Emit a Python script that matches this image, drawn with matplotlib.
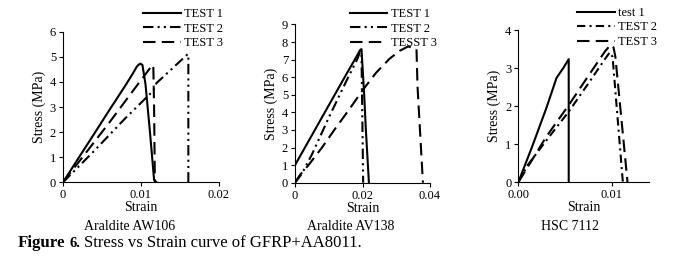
import matplotlib
matplotlib.use('Agg')
from matplotlib import pyplot as plt

plt.rcParams['font.family'] = 'Liberation Serif'

# Araldite AW106
AW106_T1_X = [0, 0.002, 0.004, 0.006, 0.008, 0.009, 0.0095, 0.0099, 0.0102, 0.0106, 0.0112, 0.0117, 0.0120]
AW106_T1_Y = [0, 0.97, 1.93, 2.9, 3.85, 4.35, 4.62, 4.73, 4.68, 3.9, 1.9, 0.1, 0]
AW106_T2_X = [0, 0.004, 0.008, 0.0116, 0.012, 0.016, 0.0161, 0.0161]
AW106_T2_Y = [0, 1.25, 2.55, 3.65, 3.95, 5.1, 5.1, 0]
AW106_T3_X = [0, 0.003, 0.006, 0.009, 0.0107, 0.0113, 0.0116, 0.0117, 0.0118]
AW106_T3_Y = [0, 1.2, 2.4, 3.65, 4.35, 4.6, 4.67, 3.0, 0]

# Araldite AV138
AV138_T1_X = [0, 0.005, 0.01, 0.015, 0.018, 0.0193, 0.0197, 0.0205, 0.021, 0.0219]
AV138_T1_Y = [1.0, 2.7, 4.4, 6.1, 7.1, 7.55, 7.6, 5.0, 3.0, 0]
AV138_T2_X = [0, 0.002, 0.005, 0.01, 0.015, 0.0185, 0.0193, 0.0197, 0.0202]
AV138_T2_Y = [0, 0.5, 1.6, 3.7, 5.7, 7.05, 7.45, 7.3, 0]
AV138_T3_X = [0, 0.0015, 0.004, 0.008, 0.012, 0.016, 0.02, 0.024, 0.028, 0.031, 0.0335, 0.0355, 0.036, 0.0363, 0.0379]
AV138_T3_Y = [0, 0.45, 1.0, 2.0, 3.1, 4.15, 5.25, 6.25, 7.05, 7.5, 7.75, 7.65, 7.6, 5.5, 0]

# HSC 7112
HSC_T1_X = [0, 0.0015, 0.003, 0.0041, 0.0048, 0.0054, 0.0054]
HSC_T1_Y = [0, 0.95, 1.95, 2.75, 3.0, 3.24, 0]
HSC_T2_X = [0, 0.001, 0.003, 0.0054, 0.0075, 0.0093, 0.0098, 0.0101, 0.0112]
HSC_T2_Y = [0, 0.45, 1.1, 1.86, 2.6, 3.25, 3.42, 3.3, 0]
HSC_T3_X = [0, 0.001, 0.003, 0.0054, 0.0075, 0.0093, 0.0099, 0.0102, 0.0104, 0.0117]
HSC_T3_Y = [0, 0.4, 1.2, 2.03, 2.8, 3.45, 3.62, 3.55, 3.3, 0]

LABELS_1 = ['TEST 1', 'TEST 2', 'TEST 3']
LABELS_2 = ['TEST 1', 'TEST 2', 'TESST 3']
LABELS_3 = ['test 1', 'TEST 2', 'TEST 3']

DASHDOTDOT = (0, (5, 2, 1, 2, 1, 2))
DASHDOT = (0, (4, 2, 1, 2))
LONGDASH = (0, (6, 3))

W, H = 678.0, 259.0


def px_axes(fig, left, right, top, bottom):
    return fig.add_axes([left / W, (H - bottom) / H, (right - left) / W, (bottom - top) / H])


def style_axes(ax, xmax, ymax, xticks, xticklabels, yticks):
    ax.set_xlim(0, xmax)
    ax.set_ylim(0, ymax)
    ax.set_xticks(xticks)
    ax.set_xticklabels(xticklabels)
    ax.set_yticks(yticks)
    ax.spines['top'].set_visible(False)
    ax.spines['right'].set_visible(False)
    ax.tick_params(direction='out', length=3, width=0.8, labelsize=9, pad=2)
    ax.set_xlabel('Strain', fontsize=10, labelpad=0)
    ax.set_ylabel('Stress (MPa)', fontsize=10, labelpad=3)


def draw_panel(fig, box, series, labels, styles, legend_xy):
    ax = px_axes(fig, *box)
    lines = []
    for (x, y), ls in zip(series, styles):
        l, = ax.plot(x, y, color='black', linestyle=ls, linewidth=1.5)
        lines.append(l)
    fig.legend(lines, labels, loc='upper left',
               bbox_to_anchor=(legend_xy[0] / W, 1 - legend_xy[1] / H),
               frameon=False, fontsize=9, handlelength=3.0,
               handletextpad=0.3, labelspacing=0.2, borderpad=0,
               borderaxespad=0)
    return ax


fig = plt.figure(figsize=(6.78, 2.59), dpi=100)

ax1 = draw_panel(fig, (63, 218.7, 31.7, 182.3),
                 [(AW106_T1_X, AW106_T1_Y), (AW106_T2_X, AW106_T2_Y), (AW106_T3_X, AW106_T3_Y)],
                 LABELS_1, ['-', DASHDOTDOT, LONGDASH], (143, 8))
style_axes(ax1, 0.02, 6, [0, 0.01, 0.02], ['0', '0.01', '0.02'], range(0, 7))

ax2 = draw_panel(fig, (295, 430, 24.5, 182.7),
                 [(AV138_T1_X, AV138_T1_Y), (AV138_T2_X, AV138_T2_Y), (AV138_T3_X, AV138_T3_Y)],
                 LABELS_2, ['-', DASHDOTDOT, LONGDASH], (350, 8))
style_axes(ax2, 0.04, 9, [0, 0.02, 0.04], ['0', '0.02', '0.04'], range(0, 10))

ax3 = draw_panel(fig, (518.3, 649, 30.3, 182.3),
                 [(HSC_T1_X, HSC_T1_Y), (HSC_T2_X, HSC_T2_Y), (HSC_T3_X, HSC_T3_Y)],
                 LABELS_3, ['-', DASHDOT, LONGDASH], (577, 7))
style_axes(ax3, 0.014, 4, [0, 0.01], ['0.00', '0.01'], range(0, 5))

fig.text(130 / W, 1 - 227 / H, 'Araldite AW106', ha='center', va='center', fontsize=10)
fig.text(351 / W, 1 - 227 / H, 'Araldite AV138', ha='center', va='center', fontsize=10)
fig.text(570 / W, 1 - 227 / H, 'HSC 7112', ha='center', va='center', fontsize=10)

# caption: "Figure" bold, "6." bold and a bit smaller, rest regular
renderer = fig.canvas.get_renderer()
base_y = 1 - 247 / H
t1 = fig.text(18 / W, base_y, 'Figure', ha='left', va='baseline', fontsize=12.2, fontweight='bold')
x_end = t1.get_window_extent(renderer).x1
t2 = fig.text((x_end + 4) / W, base_y, '6.', ha='left', va='baseline', fontsize=10.5, fontweight='bold')
x_end = t2.get_window_extent(renderer).x1
fig.text((x_end + 4) / W, base_y, 'Stress vs Strain curve of GFRP+AA8011.', ha='left', va='baseline', fontsize=12)

fig.savefig('out.png', dpi=100)
